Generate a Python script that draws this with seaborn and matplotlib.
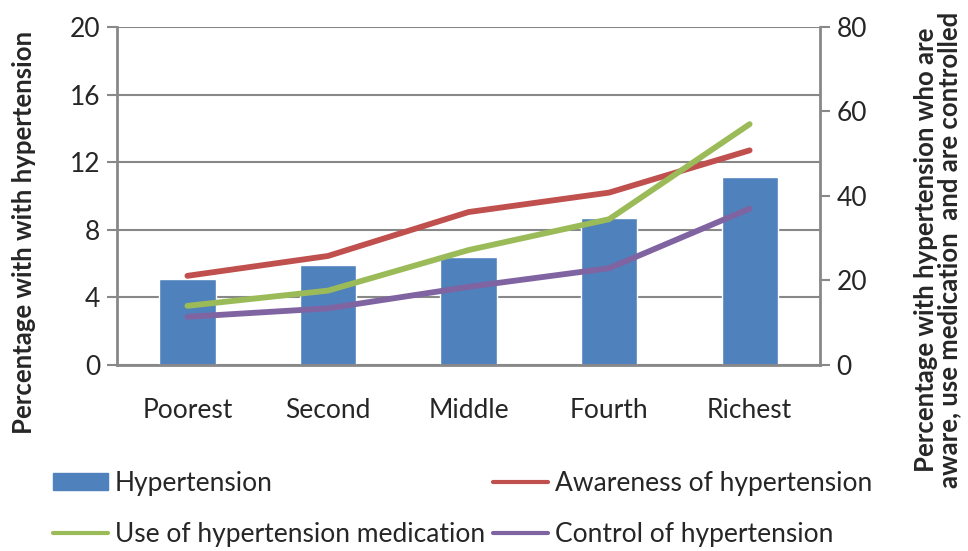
import numpy as np
import pandas as pd
import matplotlib
matplotlib.use("Agg")
import matplotlib.pyplot as plt
import seaborn as sns
from matplotlib.patches import Patch
from matplotlib.lines import Line2D

# --- data ---
quintiles = ['Poorest', 'Second', 'Middle', 'Fourth', 'Richest']
hypertension = [5.1, 5.9, 6.4, 8.7, 11.1]          # left axis (%)
awareness = [21.1, 25.8, 36.2, 40.8, 50.8]         # right axis (%)
medication = [14.0, 17.6, 27.2, 34.5, 57.0]
control = [11.4, 13.4, 18.5, 22.9, 37.0]

sns.set_style('white')
plt.rcParams['font.family'] = ['Lato', 'DejaVu Sans']

bar_color = '#4F81BD'
line_colors = {'Awareness of hypertension': '#C0504D',
               'Use of hypertension medication': '#9BBB59',
               'Control of hypertension': '#8064A2'}
grey = '#888888'

bar_df = pd.DataFrame({'Quintile': quintiles, 'Hypertension': hypertension})
line_df = pd.concat([
    pd.DataFrame({'Quintile': quintiles, 'Value': awareness, 'Series': 'Awareness of hypertension'}),
    pd.DataFrame({'Quintile': quintiles, 'Value': medication, 'Series': 'Use of hypertension medication'}),
    pd.DataFrame({'Quintile': quintiles, 'Value': control, 'Series': 'Control of hypertension'}),
], ignore_index=True)

fig = plt.figure(figsize=(9.68, 5.51), dpi=100)
ax = fig.add_axes([0.121, 0.3376, 0.726, 0.6134])

sns.barplot(ax=ax, data=bar_df, x='Quintile', y='Hypertension', color=bar_color,
            width=0.4, saturation=1, order=quintiles)
ax.set_ylim(0, 20)
ax.set_xlim(-0.5, 4.5)
ax.set_yticks([0, 4, 8, 12, 16, 20])
ax.yaxis.grid(True, color=grey, linewidth=1.5)
ax.set_axisbelow(True)
ax.set_xlabel('')
ax.set_ylabel('')

ax2 = ax.twinx()
sns.lineplot(ax=ax2, data=line_df, x='Quintile', y='Value', hue='Series',
             palette=line_colors, linewidth=4.2, legend=False)
for ln in ax2.lines:
    ln.set_solid_capstyle('round')
    ln.set_solid_joinstyle('round')
ax2.set_ylim(0, 80)
ax2.set_yticks([0, 20, 40, 60, 80])
ax2.set_xlim(-0.5, 4.5)
ax2.set_xlabel('')
ax2.set_ylabel('')

# axis titles placed like the reference
fig.text(0.0248, 0.579, 'Percentage with with hypertension', rotation=90,
         ha='center', va='center', fontsize=18.5, fontweight='bold')
fig.text(0.969, 0.546,
         'Percentage with hypertension who are\naware, use medication  and are controlled',
         rotation=90, ha='center', va='center', fontsize=18.5, fontweight='bold',
         linespacing=0.95)

# ticks: labels at centres, tick marks between categories
ax.set_xticks(range(len(quintiles)))
ax.set_xticklabels(quintiles)
ax.set_xticks(np.arange(-0.5, 5, 1), minor=True)
ax.tick_params(axis='x', which='major', length=0, labelsize=19, pad=24)
ax.tick_params(axis='x', which='minor', length=7, width=1.5, color=grey, direction='out')
ax.tick_params(axis='y', length=7, width=1.5, color=grey, labelsize=19, pad=5)
ax2.tick_params(axis='y', length=7, width=1.5, color=grey, labelsize=19, pad=5)

for a in (ax, ax2):
    a.spines['top'].set_visible(False)
    for side in ('left', 'right', 'bottom'):
        a.spines[side].set_color(grey)
        a.spines[side].set_linewidth(2)
ax.spines['right'].set_visible(False)
ax2.spines['left'].set_visible(False)
ax2.spines['bottom'].set_visible(False)

handles = [Patch(color=bar_color, label='Hypertension'),
           Line2D([], [], color=line_colors['Use of hypertension medication'], lw=3,
                  solid_capstyle='round', label='Use of hypertension medication'),
           Line2D([], [], color=line_colors['Awareness of hypertension'], lw=3,
                  solid_capstyle='round', label='Awareness of hypertension'),
           Line2D([], [], color=line_colors['Control of hypertension'], lw=3,
                  solid_capstyle='round', label='Control of hypertension')]
fig.legend(handles=handles, ncol=2, loc='lower left', bbox_to_anchor=(0.03, -0.036),
           frameon=False, fontsize=19, handlelength=2.1, handleheight=0.6,
           columnspacing=0.3, labelspacing=1.0, handletextpad=0.25)

fig.savefig('out.png', dpi=100)
